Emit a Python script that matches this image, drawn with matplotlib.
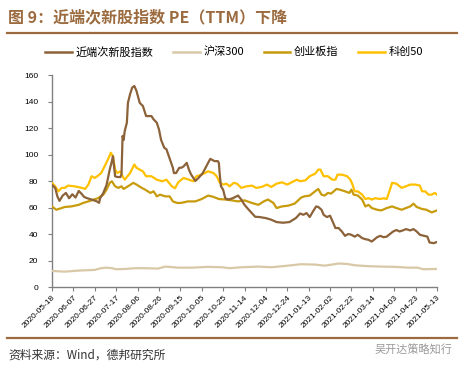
import matplotlib
matplotlib.use("Agg")
import matplotlib.pyplot as plt
from matplotlib.lines import Line2D
import pandas as pd

plt.rcParams['font.family'] = ['Liberation Sans', 'Noto Sans CJK SC', 'DejaVu Sans']

start = pd.Timestamp("2020-05-18")
end = pd.Timestamp("2021-05-13")

series_names = ["近端次新股指数", "沪深300", "创业板指", "科创50"]
series_colors = ["#8C6239", "#D8C8A6", "#C89B0C", "#FFC000"]

# day offsets from 2020-05-18 and PE values
cxg_days = [0, 3, 5, 7, 10, 13, 16, 19, 22, 25, 28, 30, 33, 37, 42, 44, 45, 48, 51, 54, 56, 57, 59, 61, 64, 65,
            66, 67, 68, 70, 71, 73, 75, 77, 79, 82, 85, 88, 91, 93, 95, 98, 100, 102, 105, 107, 110, 113, 114, 116,
            119, 121, 123, 126, 128, 130, 134, 137, 141, 146, 148, 152, 155, 156, 157, 158, 160, 162, 165, 169, 174,
            177, 180, 184, 190, 194, 200, 205, 210, 216, 222, 228, 232, 235, 238, 241, 244, 247, 249, 252, 254, 257,
            260, 263, 265, 268, 271, 274, 277, 280, 283, 286, 290, 293, 296, 299, 301, 304, 307, 310, 313, 316, 319,
            322, 325, 328, 331, 335, 338, 341, 344, 348, 351, 353, 357, 360]
cxg_vals = [77, 74.8, 68.4, 65, 69, 71, 67, 70, 67.5, 72.5, 70, 68, 67, 66, 64.6, 63.5, 67, 71, 77, 88.6, 95, 98.7,
            83.6, 83, 83, 85, 114, 111, 117.7, 124, 139, 145.5, 150.5, 151.7, 148, 139, 136.6, 129, 129, 129, 126.5,
            124, 119, 111, 105, 104, 97, 90, 86, 86, 90, 90, 91, 93.7, 88.6, 85, 80, 82.3, 86, 93.7, 96.7, 95, 95,
            93.7, 83.6, 76, 73.5, 67, 66, 67, 69, 66, 62, 58.3, 53, 52.8, 52, 50.8, 49, 48.5, 49, 52, 55.5, 54.5,
            55.8, 52.8, 57, 60.8, 60.4, 58.3, 54.5, 52.8, 53.8, 48.3, 44.5, 44.5, 41.9, 38.6, 40, 39.4, 38, 39.4,
            36.9, 36.1, 35.6, 34.3, 35.6, 37.6, 38.6, 37.6, 38, 40, 41.9, 43, 41.9, 42.7, 43.7, 42.7, 43.7, 41.9,
            39.4, 38.6, 38, 33.6, 33.1, 34]

hs300_days = [0, 12, 25, 40, 46, 51, 56, 60, 68, 78, 87, 99, 106, 118, 131, 146, 159, 166, 177, 193, 205, 218, 233,
              246, 255, 268, 276, 283, 296, 308, 321, 333, 342, 347, 360]
hs300_vals = [12.1, 11.6, 12.4, 12.9, 14.2, 14.6, 14.2, 13.4, 13.6, 14.2, 14.2, 13.9, 15.4, 14.6, 14.6, 15.2, 14.9,
              14.2, 14.9, 15.4, 14.9, 15.9, 17.2, 16.9, 16.1, 17.7, 17.4, 16.4, 15.7, 15.4, 15.2, 14.6, 14.6, 13.4,
              13.6]

cyb_days = [0, 4, 9, 12, 18, 25, 29, 34, 39, 43, 48, 51, 54, 56, 59, 62, 65, 67, 71, 76, 79, 84, 87, 92, 95, 98,
            101, 106, 110, 113, 117, 121, 127, 134, 140, 146, 151, 156, 162, 168, 174, 180, 187, 193, 198, 202, 207,
            210, 215, 221, 227, 233, 236, 241, 246, 249, 252, 255, 258, 261, 266, 269, 274, 278, 280, 282, 286, 290,
            293, 296, 299, 304, 308, 313, 318, 322, 327, 331, 335, 338, 341, 346, 350, 355, 360]
cyb_vals = [60.8, 58.3, 59.6, 60.4, 60.8, 62, 63.4, 64.6, 66, 67, 69.7, 73.5, 78.6, 79.8, 76, 74.8, 76, 74, 76, 78.6,
            77.3, 74.8, 73.5, 71, 72.2, 68.4, 69.7, 68.4, 68.4, 64.6, 63.4, 63.5, 64.6, 64.6, 66.4, 69, 68, 66.4, 66,
            65.4, 64.6, 65.4, 63.4, 62, 64.6, 66, 63.4, 59.6, 60.8, 61.4, 63, 67.5, 68.4, 69, 72.2, 74, 69.7, 69, 71,
            70.5, 74, 73.5, 72.2, 71, 73.5, 69.7, 69, 66, 60.8, 62, 59.6, 58.3, 57.8, 59.6, 60.8, 59.6, 58.3, 59.6,
            60.8, 62.9, 60.4, 58.9, 58.3, 56.3, 57.8]

kc50_days = [0, 3, 6, 9, 12, 15, 21, 28, 31, 34, 37, 40, 43, 46, 50, 53, 55, 57, 59, 61, 64, 66, 68, 73, 77, 79, 82,
             85, 88, 93, 98, 103, 107, 112, 115, 118, 123, 128, 132, 135, 140, 146, 151, 154, 157, 160, 163, 166,
             170, 173, 177, 182, 187, 191, 196, 201, 205, 210, 215, 220, 224, 229, 232, 237, 241, 246, 249, 251, 254,
             258, 262, 265, 267, 271, 276, 279, 281, 283, 286, 290, 293, 296, 299, 302, 307, 310, 313, 316, 318, 322,
             327, 331, 335, 340, 344, 346, 349, 352, 355, 358, 360]
kc50_vals = [78.5, 76, 72.2, 74.8, 74.8, 76.5, 76, 74.8, 74, 77.3, 83.6, 82.3, 84, 86, 92.4, 97.5, 101.3, 98.7, 88.6,
             86, 87.3, 83.6, 81, 86, 92.4, 90, 88.6, 87.3, 83.6, 83.6, 81, 79.8, 81, 76, 74.5, 79, 82.3, 81, 79.8,
             83.6, 84.8, 87.3, 86, 83.6, 78.6, 77.3, 78, 76, 78.6, 78, 74.8, 76, 76.5, 74.8, 75.5, 77.3, 75.5, 78,
             79, 77.3, 79, 81, 79.8, 80.5, 83.6, 85.5, 88.6, 88.6, 83.6, 83.6, 81, 81, 84.8, 84.8, 83.6, 81, 77.3,
             72.2, 72.2, 69.7, 66.4, 67, 66, 67, 66.4, 67, 66.4, 73.5, 78.6, 78, 74.8, 76, 77.3, 77.3, 76.5, 72.2,
             72.2, 69.7, 69.7, 71, 69.7]

tick_labels = ["2020-05-18", "2020-06-07", "2020-06-27", "2020-07-17", "2020-08-06", "2020-08-26", "2020-09-15",
               "2020-10-05", "2020-10-25", "2020-11-14", "2020-12-04", "2020-12-24", "2021-01-13", "2021-02-02",
               "2021-02-22", "2021-03-14", "2021-04-03", "2021-04-23", "2021-05-13"]
y_ticks = [0, 20, 40, 60, 80, 100, 120, 140, 160]

title_text = "图 9：近端次新股指数 PE（TTM）下降"
source_text = "资料来源：Wind，德邦研究所"
watermark_text = "吴开达策略知行"

W, H = 467, 371
fig = plt.figure(figsize=(W / 100, H / 100), dpi=100)
ax = fig.add_axes([52 / W, 1 - 287 / H, (437 - 52) / W, (287 - 75) / H])

def to_dates(days):
    return [start + pd.Timedelta(days=d) for d in days]

data = [(cxg_days, cxg_vals), (hs300_days, hs300_vals), (cyb_days, cyb_vals), (kc50_days, kc50_vals)]
order = [1, 2, 3, 0]
for i in order:
    d, v = data[i]
    ax.plot(to_dates(d), v, color=series_colors[i], lw=1.6, zorder=3 + (i == 0))

ax.set_xlim(start, end)
ax.set_ylim(0, 160)
ax.set_yticks(y_ticks)
ax.set_yticklabels([str(t) for t in y_ticks], fontsize=6)
ax.set_xticks([pd.Timestamp(t) for t in tick_labels])
ax.set_xticklabels(tick_labels, rotation=45, ha='right', va='top', rotation_mode='anchor', fontsize=6)
for s in ['top', 'right']:
    ax.spines[s].set_visible(False)
for s in ['left', 'bottom']:
    ax.spines[s].set_color('#808080')
    ax.spines[s].set_linewidth(1.0)
ax.tick_params(axis='y', length=3, width=0.8, color='#808080', pad=7)
ax.tick_params(axis='x', length=3, width=0.8, color='#808080', pad=2)

# legend
handles = [Line2D([0], [0], color=series_colors[i], lw=1.8) for i in range(4)]
fig.legend(handles, series_names, loc='center', bbox_to_anchor=(234 / W, 1 - 52 / H), ncol=4, frameon=False,
           handlelength=2.4, handletextpad=0.3, columnspacing=1.8,
           prop={'family': ['Noto Sans CJK SC', 'Liberation Sans'], 'size': 8})

# title and rules
fig.text(8 / W, 1 - 17 / H, title_text, fontsize=11.5, fontweight='bold', color='#9B6B3F', ha='left', va='center',
         family=['Noto Sans CJK SC', 'Liberation Sans'])
rule_color = '#9B6B3F'
fig.add_artist(Line2D([7 / W, 457 / W], [1 - 33 / H, 1 - 33 / H], color=rule_color, lw=1.6))
fig.add_artist(Line2D([7 / W, 457 / W], [1 - 338 / H, 1 - 338 / H], color=rule_color, lw=1.6))

fig.text(8 / W, 1 - 355 / H, source_text, fontsize=8.5, color='#333333', ha='left', va='center',
         family=['Noto Sans CJK SC', 'Liberation Sans'])
fig.text(452 / W, 1 - 350 / H, watermark_text, fontsize=8, color='#9a9a9a', ha='right', va='center',
         family=['Noto Sans CJK SC', 'Liberation Sans'])

fig.savefig("out.png", dpi=100)
